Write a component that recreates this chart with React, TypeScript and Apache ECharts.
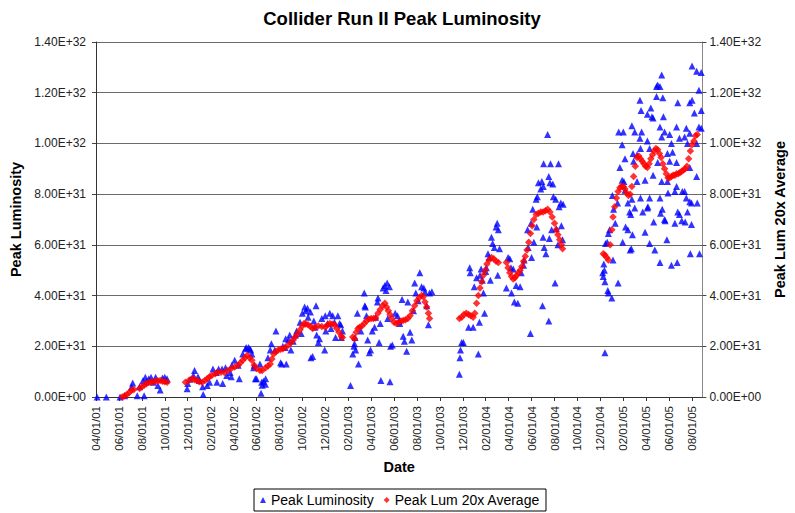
import React, { useEffect, useRef } from "react";
import * as echarts from "echarts";

const TITLE = "Collider Run II Peak Luminosity";
const SERIES_PEAK = "Peak Luminosity";
const SERIES_AVG = "Peak Lum 20x Average";
const X_NAME = "Date";
const Y_LEFT_NAME = "Peak Luminosity";
const Y_RIGHT_NAME = "Peak Lum 20x Average";

// x tick labels, one every two months starting 04/01/01
const dateTickLabels = [
  "04/01/01", "06/01/01", "08/01/01", "10/01/01", "12/01/01", "02/01/02", "04/01/02",
  "06/01/02", "08/01/02", "10/01/02", "12/01/02", "02/01/03", "04/01/03", "06/01/03",
  "08/01/03", "10/01/03", "12/01/03", "02/01/04", "04/01/04", "06/01/04", "08/01/04",
  "10/01/04", "12/01/04", "02/01/05", "04/01/05", "06/01/05", "08/01/05",
];

// Points: [months since 04/01/01, luminosity in units of 1E+31]
const peak2001 = [
  [0.1, 0], [0.9, 0], [2.1, 0], [2.5, 0.05], [3.1, 0.4], [3.2, 0.55], [3.6, 0.05], [3.8, 0.4],
  [4.1, 0.65], [4.2, 0.05], [4.3, 0.78], [4.4, 0.6], [4.6, 0.72], [4.8, 0.78], [5.0, 0.58],
  [5.2, 0.78], [5.4, 0.45], [5.6, 0.28], [5.8, 0.75], [6.0, 0.78], [6.1, 0.65], [6.2, 0.72],
];
const peak2002 = [
  [7.95, 0.33], [8.0, 0.53], [8.2, 0.7], [8.5, 0.85], [8.6, 1.05], [8.9, 0.8], [9.0, 0.65],
  [9.3, 0.4], [9.35, 0.1], [9.7, 0.45], [9.9, 0.58], [10.2, 1.1], [10.5, 0.97], [10.55, 0.58],
  [10.7, 1.1], [11.0, 1.1], [11.05, 0.53], [11.3, 1.15], [11.4, 0.85], [11.7, 0.97], [11.8, 0.8],
  [11.85, 1.25], [12.1, 1.45], [12.4, 1.25], [12.5, 0.72], [12.8, 1.7], [13.05, 1.9], [13.1, 1.95],
  [13.3, 1.95], [13.4, 1.9], [13.5, 1.85], [13.6, 1.7], [13.75, 1.15], [13.8, 1.25], [13.9, 0.72],
  [14.0, 0.72], [14.3, 1.3], [14.4, 0.15], [14.45, 0.58], [14.5, 0.46], [14.6, 0.62], [14.8, 0.72],
  [14.78, 0.5], [15.0, 1.55], [15.2, 1.85], [15.3, 2.1], [15.6, 1.85], [15.7, 2.6], [16.1, 1.35],
  [16.2, 1.3], [16.3, 2.0], [16.5, 1.95], [16.55, 2.3], [16.6, 1.3], [16.8, 2.25], [16.9, 2.45],
  [17.0, 1.85], [17.2, 2.2], [17.4, 2.45], [17.5, 2.6], [17.8, 2.95], [17.9, 2.5], [18.0, 3.3],
  [18.2, 3.55], [18.3, 3.4], [18.45, 3.5], [18.5, 3.15], [18.7, 3.35], [18.75, 1.55], [18.9, 1.6],
  [19.0, 3.0], [19.1, 2.75], [19.2, 3.6], [19.25, 2.45], [19.4, 2.15], [19.5, 2.3], [19.7, 3.1],
  [19.95, 1.85], [20.0, 3.2], [20.05, 2.6], [20.2, 2.9], [20.4, 3.3], [20.5, 2.7], [20.65, 3.2],
  [20.8, 2.95], [20.9, 2.35], [21.1, 3.2], [21.25, 2.9], [21.35, 2.85], [21.4, 2.35], [21.5, 2.6],
];
const peak2003 = [
  [22.2, 0.45], [22.4, 1.7], [22.5, 2.0], [22.55, 2.1], [22.6, 2.35], [22.65, 1.85], [22.8, 3.3],
  [22.9, 1.3], [23.1, 2.6], [23.4, 4.1], [23.45, 3.6], [23.5, 3.55], [23.6, 3.2], [23.7, 2.25],
  [23.85, 1.75], [23.95, 1.85], [24.1, 2.6], [24.3, 2.75], [24.4, 3.15], [24.55, 3.75], [24.6, 3.9],
  [24.7, 2.15], [24.8, 2.9], [24.85, 0.65], [25.05, 4.3], [25.2, 4.4], [25.3, 4.2], [25.4, 4.5],
  [25.45, 3.1], [25.6, 4.35], [25.65, 0.6], [25.7, 2.0], [25.85, 2.05], [26.1, 3.3], [26.3, 3.2],
  [26.45, 3.0], [26.5, 2.9], [26.7, 3.85], [26.8, 2.4], [26.9, 2.2], [27.1, 1.8], [27.2, 3.75],
  [27.4, 2.55], [27.55, 2.25], [27.7, 3.4], [27.8, 4.5], [27.9, 4.1], [28.1, 3.8], [28.25, 4.9],
  [28.4, 4.35], [28.6, 4.3], [28.7, 4.15], [28.85, 3.6], [29.0, 2.85], [29.1, 4.1], [29.3, 4.15],
];
const peak2004 = [
  [31.7, 0.9], [31.75, 1.55], [31.8, 1.85], [31.9, 2.15], [32.05, 2.15], [32.5, 2.75], [32.6, 5.1],
  [32.65, 4.9], [32.9, 2.75], [33.0, 4.35], [33.2, 4.7], [33.35, 1.7], [33.45, 2.95], [33.5, 4.8],
  [33.6, 5.05], [33.7, 4.6], [33.8, 4.1], [33.9, 3.3], [34.0, 4.95], [34.05, 5.1], [34.2, 5.65],
  [34.3, 5.5], [34.4, 4.6], [34.5, 6.3], [34.6, 6.05], [34.75, 5.9], [34.9, 6.7], [35.0, 6.85],
  [35.05, 4.8], [35.1, 6.6], [35.2, 5.85], [35.8, 4.3], [35.95, 5.5], [36.1, 5.45], [36.2, 5.1],
  [36.25, 4.1], [36.4, 5.05], [36.5, 3.75], [36.65, 4.4], [36.8, 3.7], [37.0, 4.35], [37.1, 4.9],
  [37.3, 5.2], [37.35, 5.4], [37.9, 2.5], [37.65, 6.6], [37.7, 5.9], [37.95, 6.85], [38.0, 5.5],
  [38.1, 7.4], [38.2, 6.1], [38.4, 7.8], [38.45, 6.7], [38.5, 7.9], [38.6, 8.45], [38.8, 8.2],
  [38.9, 8.5], [38.95, 3.6], [39.0, 6.3], [39.02, 8.3], [39.05, 9.2], [39.1, 5.9], [39.25, 5.65],
  [39.4, 10.35], [39.5, 3.0], [39.5, 8.7], [39.55, 6.25], [39.6, 8.45], [39.65, 9.2], [39.75, 6.6],
  [39.85, 8.4], [39.9, 7.9], [40.05, 4.5], [40.1, 7.8], [40.15, 6.65], [40.3, 6.0], [40.35, 9.2],
  [40.4, 7.5], [40.55, 7.65], [40.6, 6.75], [40.7, 6.2], [40.75, 7.6],
];
const peak2005 = [
  [44.2, 4.9], [44.25, 4.75], [44.3, 5.25], [44.35, 5.0], [44.4, 4.55], [44.4, 1.75], [44.45, 6.05],
  [44.6, 6.1], [44.65, 4.2], [44.7, 4.1], [44.7, 6.45], [44.8, 6.6], [45.0, 3.9], [45.05, 7.95],
  [45.1, 5.4], [45.15, 7.4], [45.3, 6.85], [45.5, 7.65], [45.55, 4.5], [45.6, 10.45], [45.7, 9.05],
  [45.9, 9.95], [45.9, 8.55], [45.95, 6.1], [46.0, 10.45], [46.05, 8.5], [46.15, 9.4], [46.15, 8.15],
  [46.2, 6.7], [46.4, 7.65], [46.4, 6.6], [46.55, 7.3], [46.6, 5.8], [46.65, 7.2], [46.7, 5.85],
  [46.75, 10.7], [46.75, 7.8], [46.8, 6.4], [46.85, 9.6], [46.9, 9.3], [47.0, 10.45], [47.0, 7.45],
  [47.2, 9.55], [47.2, 8.5], [47.45, 11.7], [47.45, 10.2], [47.5, 9.8], [47.5, 7.85], [47.55, 11.3],
  [47.6, 10.45], [47.7, 7.3], [47.9, 8.55], [47.9, 6.5], [48.1, 11.15], [48.1, 10.1], [48.1, 7.45],
  [48.15, 7.5], [48.3, 9.8], [48.3, 7.85], [48.3, 6.05], [48.4, 11.4], [48.5, 11.05], [48.6, 11.0],
  [48.6, 8.75], [48.65, 6.9], [48.75, 5.8], [48.9, 12.25], [48.9, 11.85], [49.0, 12.3], [49.0, 9.25],
  [49.2, 12.25], [49.2, 10.65], [49.2, 7.85], [49.25, 7.25], [49.2, 5.3], [49.35, 12.7], [49.35, 10.25],
  [49.35, 8.5], [49.4, 7.4], [49.45, 11.8], [49.5, 11.05], [49.6, 10.45], [49.6, 7.0], [49.65, 6.95],
  [49.8, 6.2], [49.85, 9.6], [49.85, 8.5], [49.9, 8.05], [50.05, 10.35], [50.05, 9.3], [50.2, 10.0],
  [50.2, 5.2], [50.3, 9.65], [50.5, 8.1], [50.5, 6.85], [50.65, 10.65], [50.65, 9.25], [50.65, 8.3],
  [50.7, 5.3], [50.75, 11.6], [50.75, 7.3], [50.9, 10.2], [50.9, 7.2], [51.1, 6.95], [51.15, 8.1],
  [51.35, 10.25], [51.35, 8.1], [51.4, 6.9], [51.5, 10.6], [51.5, 7.85], [51.6, 10.0], [51.6, 7.3],
  [51.8, 11.6], [51.8, 10.4], [51.8, 9.05], [51.8, 7.7], [51.85, 5.65], [51.95, 6.8], [51.95, 7.65],
  [52.0, 13.05], [52.0, 11.7], [52.2, 11.2], [52.4, 12.85], [52.4, 10.0], [52.4, 8.7], [52.45, 7.65],
  [52.6, 12.1], [52.6, 10.65], [52.65, 5.65], [52.8, 12.8], [52.8, 11.3], [52.8, 10.6],
];

const avg2001 = [
  [2.3, 0], [2.5, 0.05], [2.7, 0.1], [2.9, 0.18], [3.1, 0.27], [3.3, 0.3], [3.8, 0.34], [4.0, 0.4],
  [4.2, 0.46], [4.4, 0.52], [4.6, 0.58], [4.8, 0.58], [5.0, 0.6], [5.2, 0.62], [5.4, 0.64],
  [5.6, 0.65], [5.8, 0.62], [6.0, 0.6], [6.2, 0.58],
];
const avg2002 = [
  [7.8, 0.58], [8.1, 0.65], [8.4, 0.73], [8.6, 0.68], [8.8, 0.65], [9.0, 0.6], [9.25, 0.58],
  [9.5, 0.65], [9.7, 0.72], [9.9, 0.8], [10.1, 0.85], [10.4, 0.92], [10.6, 0.97], [10.9, 0.98],
  [11.2, 0.97], [11.5, 1.05], [11.8, 1.12], [12.1, 1.18], [12.4, 1.25], [12.6, 1.35], [12.8, 1.45],
  [13.0, 1.55], [13.2, 1.65], [13.4, 1.55], [13.6, 1.45], [13.8, 1.25], [14.0, 1.12], [14.3, 1.05],
  [14.5, 1.05], [14.8, 1.15], [15.0, 1.22], [15.2, 1.3], [15.35, 1.5], [15.5, 1.7], [15.7, 1.78],
  [15.9, 1.85], [16.1, 1.88], [16.3, 1.9], [16.5, 1.95], [16.8, 2.05], [17.0, 2.15], [17.2, 2.25],
  [17.4, 2.38], [17.6, 2.5], [17.8, 2.65], [18.0, 2.8], [18.15, 2.9], [18.3, 2.88], [18.5, 2.85],
  [18.7, 2.78], [18.9, 2.7], [19.1, 2.75], [19.4, 2.8], [19.7, 2.78], [20.0, 2.75], [20.2, 2.85],
  [20.4, 2.9], [20.6, 2.88], [20.8, 2.85], [21.0, 2.7], [21.2, 2.55], [21.4, 2.4], [21.5, 2.35],
];
const avg2003 = [
  [22.4, 2.37], [22.55, 2.3], [22.7, 2.55], [22.85, 2.7], [23.0, 2.75], [23.2, 2.8], [23.4, 2.9],
  [23.6, 3.0], [23.8, 3.08], [24.0, 3.1], [24.2, 3.1], [24.4, 3.12], [24.6, 3.3], [24.8, 3.45],
  [25.0, 3.6], [25.2, 3.7], [25.35, 3.55], [25.5, 3.4], [25.65, 3.25], [25.8, 3.1], [26.0, 2.95],
  [26.2, 2.9], [26.4, 2.95], [26.6, 3.0], [26.8, 3.02], [27.0, 3.05], [27.2, 3.1], [27.4, 3.2],
  [27.6, 3.4], [27.8, 3.6], [28.0, 3.8], [28.2, 3.92], [28.4, 4.0], [28.55, 3.95], [28.7, 3.75],
  [28.85, 3.55], [29.0, 3.3], [29.1, 3.1],
];
const avg2004 = [
  [31.7, 3.1], [31.9, 3.15], [32.1, 3.25], [32.3, 3.3], [32.5, 3.25], [32.7, 3.2], [32.9, 3.15],
  [33.05, 3.3], [33.2, 3.7], [33.35, 4.0], [33.5, 4.3], [33.65, 4.55], [33.8, 4.8], [33.95, 5.0],
  [34.1, 5.25], [34.3, 5.4], [34.5, 5.5], [34.7, 5.45], [34.9, 5.35], [35.1, 5.3],
  [35.8, 5.3], [35.95, 5.1], [36.1, 4.9], [36.25, 4.75], [36.4, 4.65], [36.55, 4.7], [36.7, 4.8],
  [36.85, 4.9], [37.0, 5.0], [37.15, 5.15], [37.3, 5.35], [37.45, 5.55], [37.6, 5.8], [37.75, 6.1],
  [37.9, 6.45], [38.05, 6.75], [38.2, 7.0], [38.4, 7.2], [38.6, 7.25], [38.8, 7.3], [39.0, 7.3],
  [39.2, 7.35], [39.4, 7.4], [39.6, 7.3], [39.8, 7.1], [40.0, 6.85], [40.15, 6.6], [40.3, 6.4],
  [40.45, 6.2], [40.6, 6.0], [40.7, 5.85],
];
const avg2005 = [
  [44.25, 5.65], [44.4, 5.6], [44.55, 5.5], [44.7, 5.4], [44.85, 6.0], [45.0, 6.6], [45.1, 7.1],
  [45.25, 7.5], [45.4, 7.85], [45.55, 8.1], [45.7, 8.25], [45.85, 8.3], [46.0, 8.3], [46.15, 8.2],
  [46.3, 8.05], [46.45, 7.95], [46.6, 8.0], [46.75, 8.3], [46.9, 8.7], [47.05, 9.1], [47.2, 9.45],
  [47.35, 9.5], [47.5, 9.4], [47.65, 9.3], [47.8, 9.2], [47.95, 9.1], [48.1, 9.05], [48.25, 9.2],
  [48.4, 9.4], [48.55, 9.55], [48.7, 9.7], [48.85, 9.8], [49.0, 9.75], [49.15, 9.6], [49.3, 9.45],
  [49.45, 9.2], [49.6, 9.0], [49.75, 8.8], [49.9, 8.65], [50.05, 8.65], [50.2, 8.7], [50.35, 8.75],
  [50.5, 8.75], [50.65, 8.8], [50.8, 8.8], [50.95, 8.85], [51.1, 8.9], [51.25, 8.95], [51.4, 9.0],
  [51.55, 9.1], [51.7, 9.4], [51.85, 9.7], [52.0, 9.95], [52.15, 10.1], [52.3, 10.3], [52.45, 10.35],
];

const FONT = "'Liberation Sans', Arial, sans-serif";

function sciLabel(v: number): string {
  if (v === 0) return "0.00E+00";
  const s = (v * 1e31).toExponential(2);
  const [mant, exp] = s.split("e");
  const sign = exp[0] === "-" ? "-" : "+";
  const digits = exp.replace(/[+-]/, "").padStart(2, "0");
  return `${mant}E${sign}${digits}`;
}

function dateLabel(m: number): string {
  const r = Math.round(m);
  if (Math.abs(m - r) > 1e-6 || r % 2 !== 0) return "";
  return dateTickLabels[r / 2] ?? "";
}

export default function App() {
  const ref = useRef<HTMLDivElement>(null);

  useEffect(() => {
    if (!ref.current) return;
    const chart = echarts.init(ref.current, undefined, { renderer: "svg" });

    const peakData = [...peak2001, ...peak2002, ...peak2003, ...peak2004, ...peak2005];
    const avgData = [...avg2001, ...avg2002, ...avg2003, ...avg2004, ...avg2005];

    const yCommon = {
      type: "value" as const,
      min: 0,
      max: 14,
      interval: 2,
      axisTick: { show: true, inside: false, length: 4, lineStyle: { color: "#444" } },
      axisLabel: { formatter: sciLabel, fontSize: 12, color: "#222", fontFamily: FONT },
      nameLocation: "middle" as const,
      nameRotate: 90,
      nameTextStyle: { fontSize: 14.5, fontWeight: "bold" as const, color: "#000", fontFamily: FONT },
    };

    chart.setOption({
      animation: false,
      backgroundColor: "#ffffff",
      title: {
        text: TITLE,
        left: 402,
        textAlign: "center",
        top: 9,
        padding: 0,
        textStyle: { fontSize: 18.5, fontWeight: "bold", color: "#000", fontFamily: FONT },
      },
      legend: {
        data: [
          { name: SERIES_PEAK, icon: "triangle" },
          { name: SERIES_AVG, icon: "diamond" },
        ],
        left: 254,
        top: 489,
        orient: "horizontal",
        borderColor: "#000",
        borderWidth: 1,
        padding: [4, 6, 4, 6],
        itemWidth: 6,
        itemHeight: 6,
        itemGap: 10,
        textStyle: { fontSize: 14, color: "#000", fontFamily: FONT },
      },
      grid: { left: 96, right: 87, top: 42, bottom: 116, containLabel: false },
      xAxis: {
        type: "value",
        min: 0,
        max: 52.9,
        interval: 2,
        name: X_NAME,
        nameLocation: "middle",
        nameGap: 62,
        nameTextStyle: { fontSize: 14.5, fontWeight: "bold", color: "#000", fontFamily: FONT },
        axisLine: { show: true, lineStyle: { color: "#333", width: 1 } },
        axisTick: { show: true, inside: false, length: 4, lineStyle: { color: "#333" } },
        axisLabel: {
          formatter: dateLabel,
          rotate: 90,
          margin: 9,
          fontSize: 11.5,
          color: "#222",
          fontFamily: FONT,
          showMaxLabel: false,
        },
        splitLine: { show: false },
      },
      yAxis: [
        {
          ...yCommon,
          position: "left",
          name: Y_LEFT_NAME,
          nameGap: 70,
          axisLine: { show: true, lineStyle: { color: "#333", width: 1 } },
          axisLabel: { ...yCommon.axisLabel, margin: 10 },
          splitLine: { show: true, lineStyle: { color: "#6a6a6a", width: 1 } },
        },
        {
          ...yCommon,
          position: "right",
          name: Y_RIGHT_NAME,
          nameGap: 67,
          axisLine: { show: true, lineStyle: { color: "#888", width: 1 } },
          axisLabel: { ...yCommon.axisLabel, margin: 7 },
          splitLine: { show: false },
        },
      ],
      series: [
        {
          name: SERIES_PEAK,
          type: "scatter",
          xAxisIndex: 0,
          yAxisIndex: 0,
          symbol: "triangle",
          symbolSize: 7,
          itemStyle: { color: "#0000ff" },
          emphasis: { disabled: true },
          data: peakData,
          z: 2,
        },
        {
          name: SERIES_AVG,
          type: "scatter",
          xAxisIndex: 0,
          yAxisIndex: 1,
          symbol: "diamond",
          symbolSize: 7.5,
          itemStyle: { color: "#ff0000" },
          emphasis: { disabled: true },
          data: avgData,
          z: 3,
        },
      ],
    });

    return () => chart.dispose();
  }, []);

  return (
    <div
      ref={ref}
      style={{ position: "absolute", left: 0, top: 0, width: 795, height: 513, background: "#fff" }}
    />
  );
}
